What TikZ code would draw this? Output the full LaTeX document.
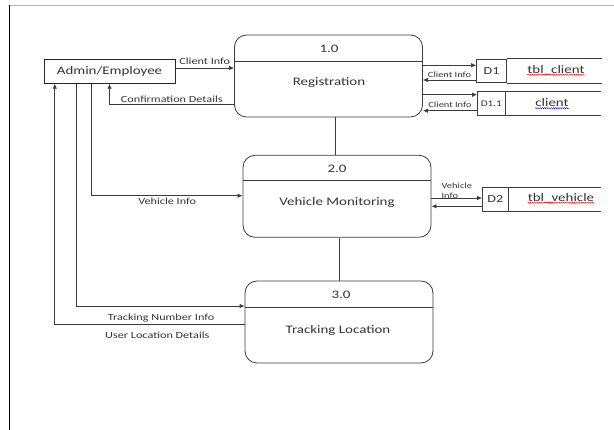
\documentclass[tikz,border=0pt]{standalone}
\usepackage{fontspec}
\setmainfont[FakeStretch=1.3]{Carlito}
\usetikzlibrary{arrows.meta,decorations.pathmorphing}
\definecolor{ink}{RGB}{60,60,60}
\definecolor{framegray}{RGB}{180,180,180}

\begin{document}
\begin{tikzpicture}[x=1pt,y=-1pt,
    proc/.style={draw=ink,rounded corners=12pt,minimum width=188pt,minimum height=82pt,line width=0.8pt},
    entity/.style={draw=black!85,minimum width=131pt,minimum height=24pt,line width=0.9pt,text=black!80,font=\fontsize{11.5}{13}\selectfont},
    storeid/.style={draw=ink,minimum height=23.5pt,inner sep=0pt,line width=0.8pt,text=black!80,font=\fontsize{10.8}{12}\selectfont},
    title/.style={text=black!80,font=\fontsize{11.5}{13}\selectfont},
    lbl/.style={text=black!80,font=\fontsize{9.4}{11}\selectfont,inner sep=1.5pt},
    small/.style={text=black!80,font=\fontsize{8}{9.5}\selectfont,inner sep=1.5pt},
    flow/.style={draw=ink,line width=0.8pt,-{Latex[length=5pt,width=4.5pt]}},
    link/.style={draw=ink,line width=0.8pt},
    squiggle/.style={line width=0.4pt,decorate,decoration={snake,amplitude=0.6pt,segment length=2.2pt}}]
    \useasboundingbox (0,0) rectangle (614,430);

    % Page frame
    \draw[framegray, line width=1.6pt] (9,5.5) -- (614,5.5);
    \draw[black, line width=1pt] (9.5,5.5) -- (9.5,430);

    % External entity
    \node[entity] (admin) at (109.5,71.3) {Admin/Employee};

    % Processes
    \node[proc] (reg) at (328.5,76) {};
    \draw[link] (reg.west |- 0,61) -- (reg.east |- 0,61);
    \node[title] (regno) at (329,49) {1.0};
    \node[title] (regname) at (329,83) {Registration};

    \node[proc] (vm) at (337,196.3) {};
    \draw[link] (vm.west |- 0,180) -- (vm.east |- 0,180);
    \node[title] (vmno) at (337,168.7) {2.0};
    \node[title] (vmname) at (337,202.7) {Vehicle Monitoring};

    \node[proc] (track) at (339,322) {};
    \draw[link] (track.west |- 0,307.5) -- (track.east |- 0,307.5);
    \node[title] (trackno) at (341,295) {3.0};
    \node[title] (trackname) at (338,330) {Tracking Location};

    % Data stores
    \node[storeid, minimum width=30pt] (d1) at (491.6,71) {D1};
    \draw[link] (d1.north east) -- ++(94.5,0) (d1.south east) -- ++(94.5,0);
    \node[title, inner sep=0pt] (d1name) at (556,70) {tbl\_client};
    \draw[red, squiggle] ([yshift=-1.5pt]d1name.base west) -- ([yshift=-1.5pt]d1name.base east);

    \node[storeid, minimum width=27.5pt, font=\fontsize{8.6}{10}\selectfont] (d11) at (491.3,103.3) {D1.1};
    \draw[link] (d11.north east) -- ++(96,0) (d11.south east) -- ++(96,0);
    \node[title, inner sep=0pt] (d11name) at (552,102.7) {client};
    \draw[blue, squiggle] ([yshift=-1.5pt]d11name.base west) -- ([yshift=-1.5pt]d11name.base east);

    \node[storeid, minimum width=25.5pt] (d2) at (495.3,199.2) {D2};
    \draw[link] (d2.north east) -- ++(93,0) (d2.south east) -- ++(93,0);
    \node[title, inner sep=0pt] (d2name) at (561,198) {tbl\_vehicle};
    \draw[red, squiggle] ([yshift=-1.5pt]d2name.base west) -- ([yshift=-1.5pt]d2name.base east);

    % Flows between admin and processes
    \draw[flow] (admin.east |- 0,68) -- (reg.west |- 0,68) node[lbl, midway, above, yshift=2pt] {Client Info};
    \draw[flow] (reg.west |- 0,104.3) -| (admin.south) node[lbl, pos=0.25, above] {Confirmation Details};
    \draw[flow] ([xshift=-17.8pt]admin.south) |- (vm.west |- 0,195.7) node[lbl, pos=0.75, below] {Vehicle Info};
    \draw[flow] ([xshift=-32.7pt]admin.south) |- (track.west |- 0,306);
    \draw[flow] (track.west |- 0,324) -| ([xshift=-54.7pt]admin.south)
        node[lbl, pos=0.22, above] {Tracking Number Info}
        node[lbl, pos=0.23, below=6pt] {User Location Details};

    % Flows to and from the stores
    \draw[flow] (reg.east |- 0,65.3) -- (d1.west |- 0,65.3);
    \draw[flow] (d1.west |- 0,80) -- (reg.east |- 0,80) node[small, midway, above, yshift=1pt] {Client Info};
    \draw[flow] (reg.east |- 0,94.7) -- (d11.west |- 0,94.7);
    \draw[flow] (d11.west |- 0,110.7) -- (reg.east |- 0,110.7) node[small, midway, above, yshift=1pt] {Client Info};
    \draw[flow] (vm.east |- 0,198) -- (d2.west |- 0,198) node[small, midway, above, align=left, yshift=-2pt] {Vehicle\\Info};
    \draw[flow] (d2.west |- 0,206.3) -- (vm.east |- 0,206.3);

    % Links between processes
    \draw[link] (reg.south -| 335,0) -- (vm.north -| 335,0);
    \draw[link] (track.north) -- (track.north |- vm.south);
\end{tikzpicture}
\end{document}
